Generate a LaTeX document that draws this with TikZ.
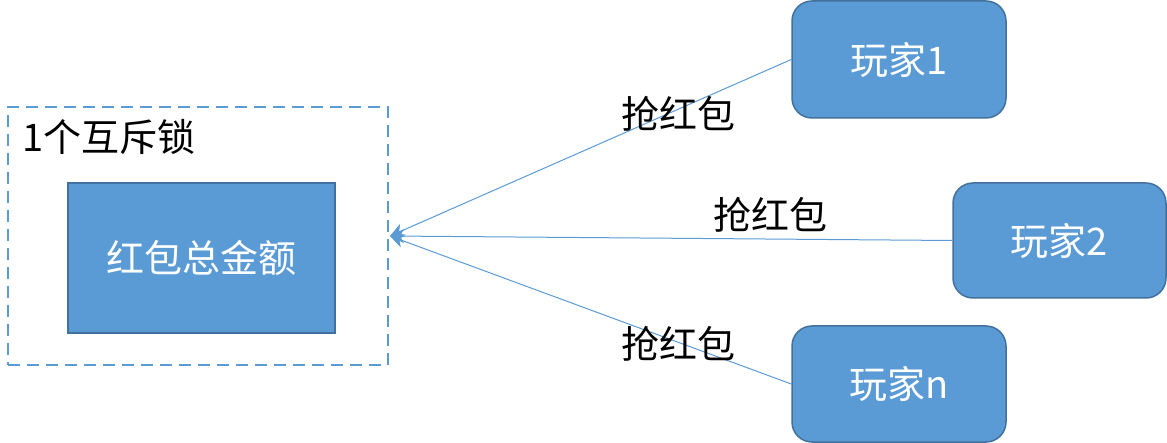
\documentclass[tikz,border=0pt]{standalone}
\usepackage{fontspec}
\setmainfont{Noto Sans CJK SC}
\usetikzlibrary{arrows.meta}
\definecolor{fillblue}{HTML}{5B9BD5}
\definecolor{edgeblue}{HTML}{41719C}
\tikzset{
  bluebox/.style={draw=edgeblue, line width=1.5pt, fill=fillblue, text=white, font=\fontsize{38}{44}\selectfont},
  player/.style={bluebox, rounded corners=20pt},
  grab/.style={draw=fillblue, line width=1pt, -{Stealth[length=14pt,width=14pt,inset=4pt]}},
  lbl/.style={font=\fontsize{38}{44}\selectfont, text=black}
}
\begin{document}
\begin{tikzpicture}[x=1pt,y=-1pt]
\useasboundingbox (0,0) rectangle (1167,443);
% dashed mutex box
\node[draw=fillblue, line width=2pt, dash pattern=on 12pt off 7pt, minimum width=380pt, minimum height=258pt, inner sep=0pt] (lock) at (198,236) {};
\node[lbl, anchor=west, inner sep=0pt] (locklbl) at (22,137) {1个互斥锁};
\node[bluebox, minimum width=267pt, minimum height=150pt, inner sep=0pt] (total) at (201.5,258) {红包总金额};
% players
\node[player, minimum width=214pt, minimum height=117pt, inner sep=0pt] (p1) at (899,59.5) {玩家1};
\node[player, minimum width=213pt, minimum height=115pt, inner sep=0pt] (p2) at (1059.5,240.5) {玩家2};
\node[player, minimum width=214pt, minimum height=116pt, inner sep=0pt] (pn) at (899,384) {玩家n};
\coordinate (tip) at (390,236);
\draw[grab] (p1.west) -- (tip);
\draw[grab] (p2.west) -- (tip);
\draw[grab] (pn.west) -- (tip);
\node[lbl, inner sep=0pt] (l1) at (678,114) {抢红包};
\node[lbl, inner sep=0pt] (l2) at (770,215) {抢红包};
\node[lbl, inner sep=0pt] (l3) at (678,344) {抢红包};
\end{tikzpicture}
\end{document}
